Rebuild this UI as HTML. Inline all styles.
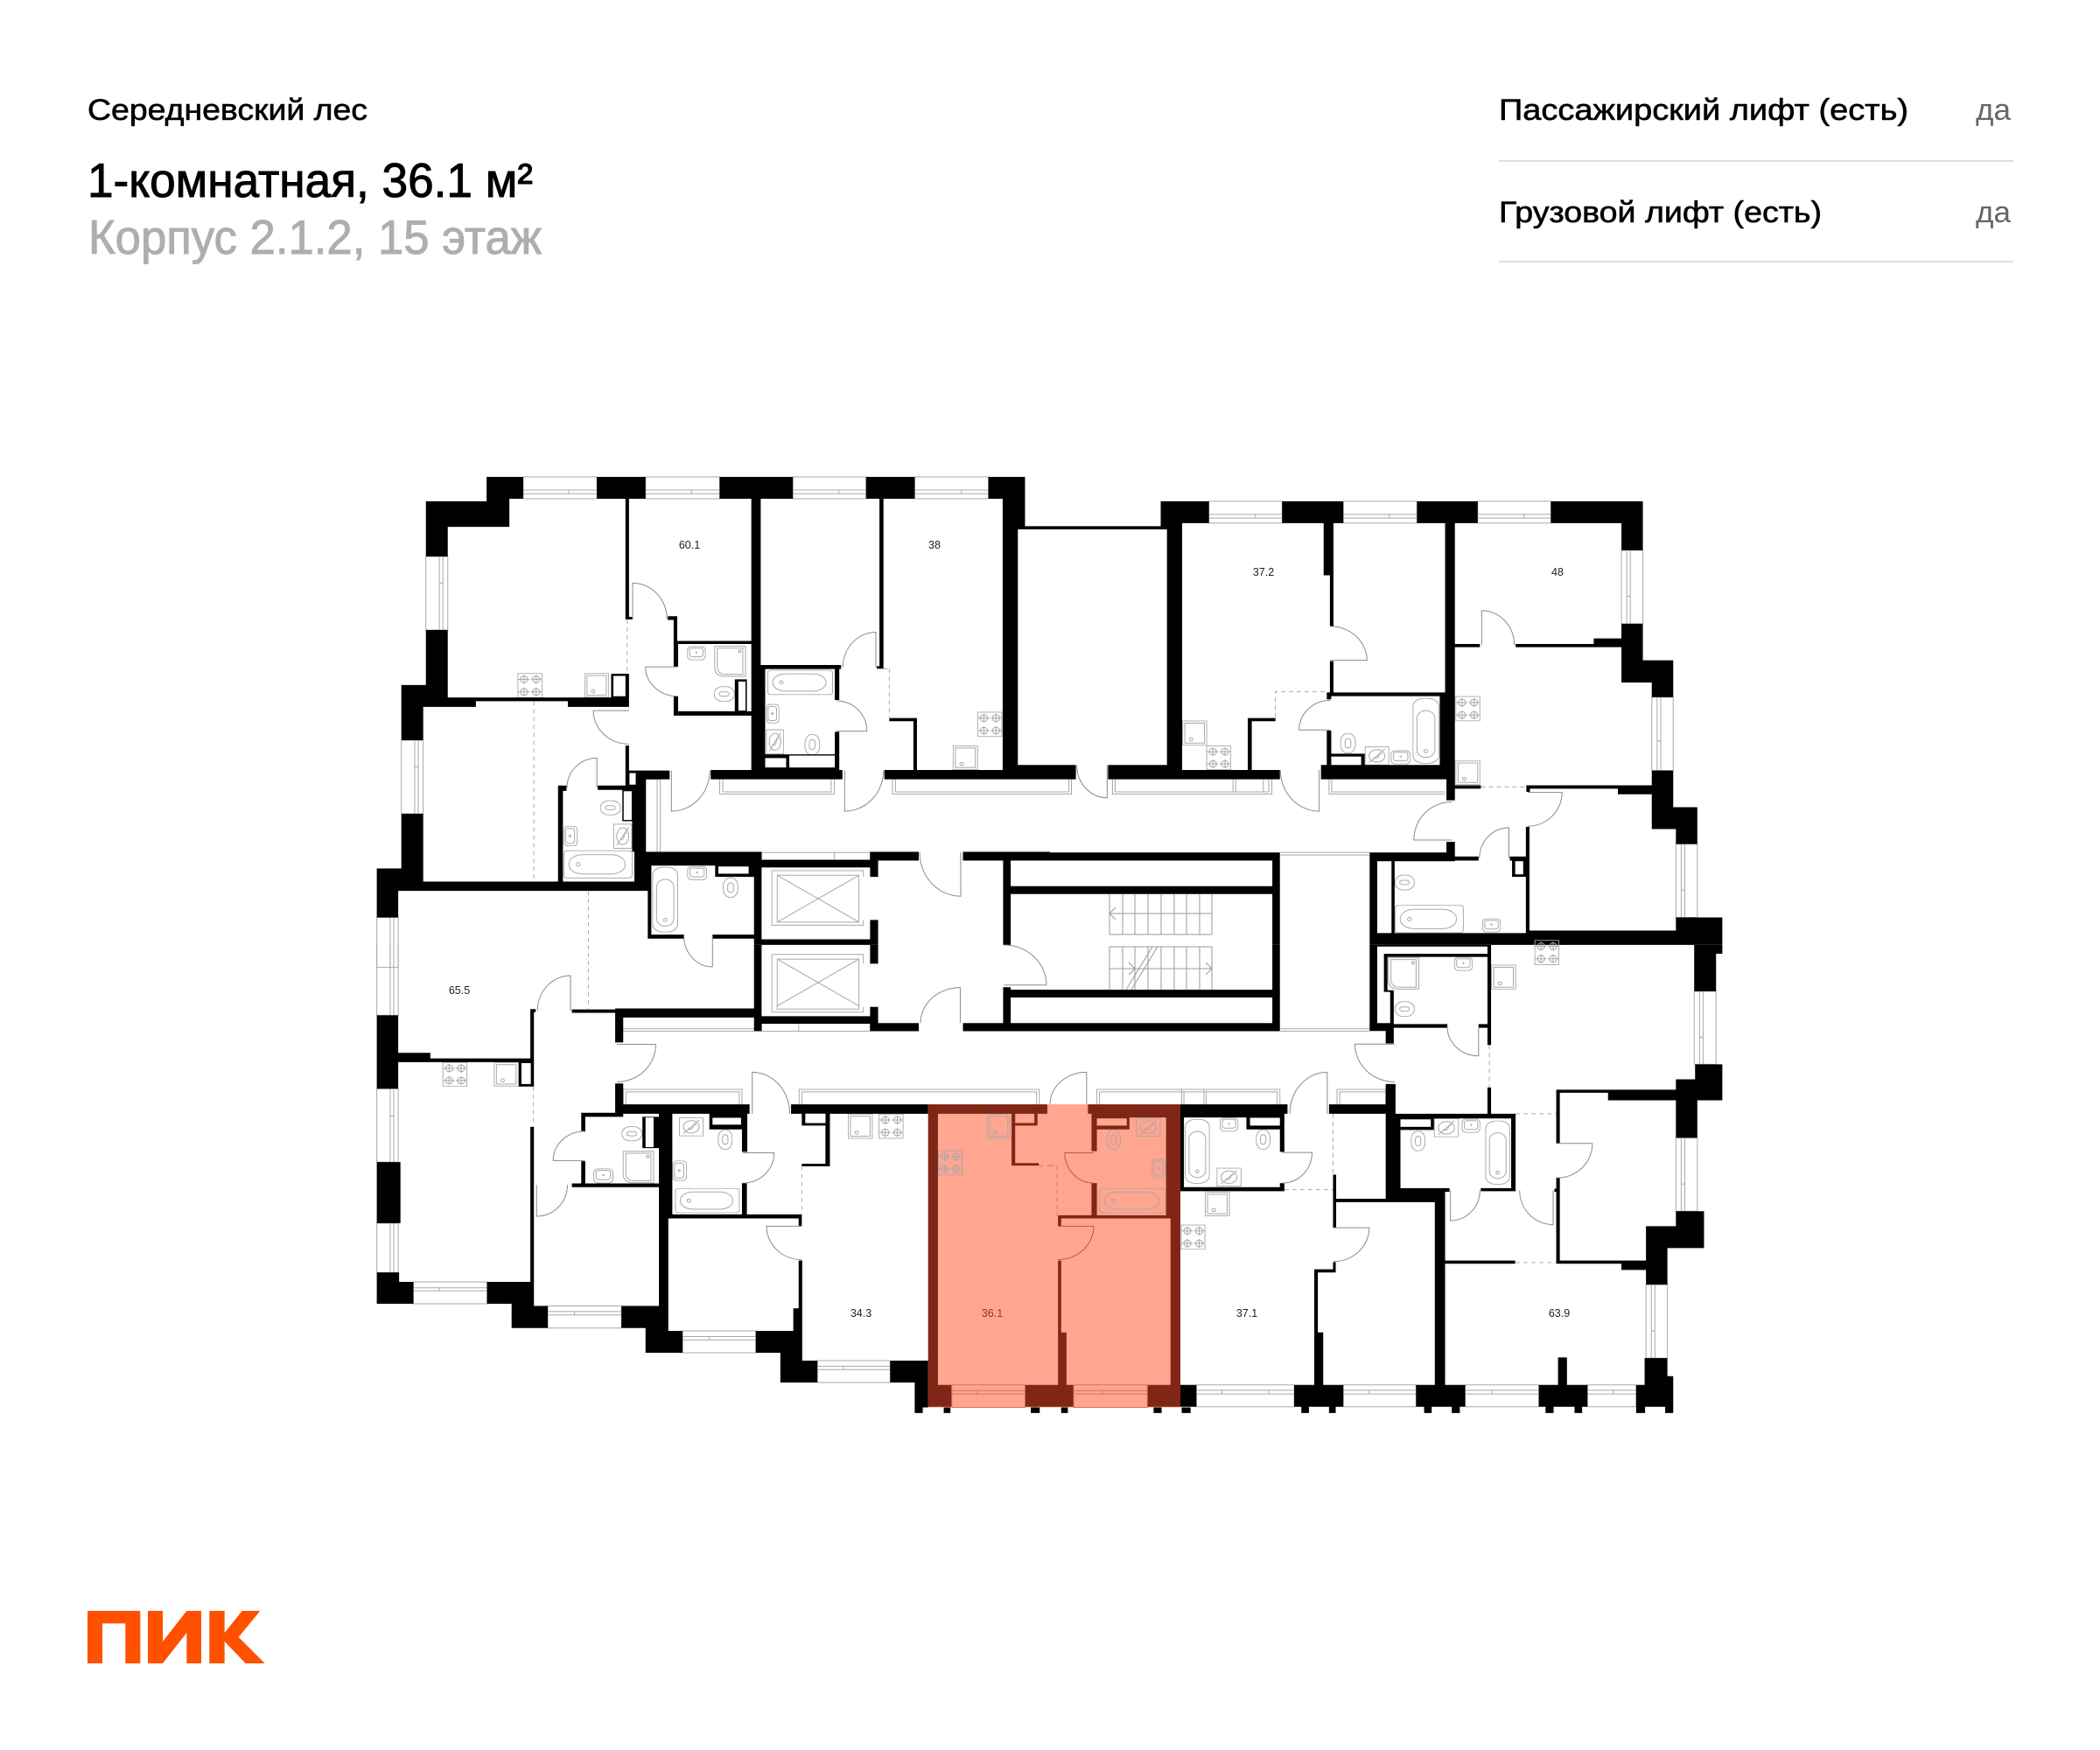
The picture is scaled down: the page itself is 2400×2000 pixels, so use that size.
<!DOCTYPE html>
<html lang="ru"><head><meta charset="utf-8"><title>План этажа</title>
<style>
html,body{margin:0;padding:0;background:#fff}
svg{display:block}
svg *{vector-effect:non-scaling-stroke}
text{font-family:"Liberation Sans",sans-serif}
.k{fill:#000;stroke:none}
.w{fill:#fff;stroke:none}
.d{fill:#7f2617;stroke:none}
.s{fill:#ffa590;stroke:none}
.l{fill:none;stroke:#a8a8a8;stroke-width:1}
.g{fill:none;stroke:#8a8a8a;stroke-width:1}
.da{fill:none;stroke:#aaa;stroke-width:1;stroke-dasharray:5 4}
use{color:#a8a8a8}
.n{font-size:12.5px;fill:#222;text-anchor:middle}
</style></head><body>
<svg xmlns="http://www.w3.org/2000/svg" width="2400" height="2000" viewBox="0 0 2400 2000">
<defs>
<symbol id="st" viewBox="0 0 56 80" preserveAspectRatio="none"><g fill="none" stroke="currentColor"><rect x="1" y="1" width="54" height="78"/><ellipse cx="15" cy="20" rx="8" ry="11"/><ellipse cx="42" cy="20" rx="8" ry="11"/><ellipse cx="15" cy="60" rx="8" ry="11"/><ellipse cx="42" cy="60" rx="8" ry="11"/><path d="M15 6V34M1 20H27M42 6V34M30 20H55M15 46V74M1 60H27M42 46V74M30 60H55"/></g></symbol>
<symbol id="fr" viewBox="0 0 56 80" preserveAspectRatio="none"><g fill="none" stroke="currentColor"><rect x="1" y="1" width="54" height="78"/><rect x="6" y="8" width="44" height="64"/><ellipse cx="20" cy="60" rx="4" ry="5"/></g></symbol>
<symbol id="bh" viewBox="0 0 150 90" preserveAspectRatio="none"><g fill="none" stroke="currentColor"><rect x="1" y="1" width="148" height="88" rx="8" ry="8"/><rect x="12" y="14" width="122" height="62" rx="30" ry="30"/><ellipse cx="32" cy="45" rx="4" ry="6"/></g></symbol>
<symbol id="bv" viewBox="0 0 60 210" preserveAspectRatio="none"><g fill="none" stroke="currentColor"><rect x="1" y="1" width="58" height="208" rx="25" ry="25"/><rect x="10" y="40" width="40" height="150" rx="20" ry="24"/><ellipse cx="30" cy="170" rx="4" ry="5"/></g></symbol>
<symbol id="tv" viewBox="0 0 35 68" preserveAspectRatio="none"><g fill="none" stroke="currentColor"><rect x="1" y="1" width="33" height="66" rx="16" ry="28"/><rect x="11" y="18" width="13" height="32" rx="6" ry="10"/></g></symbol>
<symbol id="th" viewBox="0 0 47 50" preserveAspectRatio="none"><g fill="none" stroke="currentColor"><rect x="1" y="1" width="45" height="48" rx="20" ry="22"/><rect x="12" y="18" width="22" height="14" rx="7" ry="6"/></g></symbol>
<symbol id="sh" viewBox="0 0 42 45" preserveAspectRatio="none"><g fill="none" stroke="currentColor"><rect x="1" y="1" width="40" height="43" rx="10" ry="12"/><rect x="6" y="6" width="30" height="28" rx="6" ry="7"/><circle cx="21" cy="20" r="1.5"/></g></symbol>
<symbol id="sv" viewBox="0 0 32 65" preserveAspectRatio="none"><g fill="none" stroke="currentColor"><rect x="1" y="1" width="30" height="63" rx="9" ry="12"/><rect x="5" y="8" width="20" height="48" rx="6" ry="8"/><ellipse cx="15" cy="32" rx="2" ry="3"/></g></symbol>
<symbol id="ca" viewBox="0 0 56 60" preserveAspectRatio="none"><g fill="none" stroke="currentColor"><rect x="1" y="1" width="54" height="58"/><ellipse cx="28" cy="30" rx="18" ry="20"/><path d="M10 52L46 8M20 36Q28 42 32 30Q34 18 40 24"/></g></symbol>
<symbol id="sw" viewBox="0 0 73 100" preserveAspectRatio="none"><g fill="none" stroke="currentColor"><path d="M2 2H71V98H25Q2 98 2 70Z"/><path d="M8 8H65V92H27Q8 92 8 68Z"/><ellipse cx="58" cy="18" rx="3" ry="4"/></g></symbol>
</defs>
<rect width="2400" height="2000" fill="#fff"/>

<!-- header -->
<text x="100" y="137" font-size="34" fill="#000" stroke="#000" stroke-width=".6" textLength="320" lengthAdjust="spacingAndGlyphs">Середневский лес</text>
<text x="100" y="225" font-size="55" fill="#000" stroke="#000" stroke-width="1" textLength="509" lengthAdjust="spacingAndGlyphs">1-комнатная, 36.1 м²</text>
<text x="101" y="290" font-size="55" fill="#aeaeae" stroke="#aeaeae" stroke-width="1" textLength="518" lengthAdjust="spacingAndGlyphs">Корпус 2.1.2, 15 этаж</text>
<text x="1713" y="137" font-size="34" fill="#000" stroke="#000" stroke-width=".6" textLength="468" lengthAdjust="spacingAndGlyphs">Пассажирский лифт (есть)</text>
<text x="2258" y="137" font-size="34" fill="#666" textLength="40" lengthAdjust="spacingAndGlyphs">да</text>
<rect x="1713" y="183" width="588" height="2" fill="#ddd"/>
<text x="1713" y="254" font-size="34" fill="#000" stroke="#000" stroke-width=".6" textLength="369" lengthAdjust="spacingAndGlyphs">Грузовой лифт (есть)</text>
<text x="2258" y="254" font-size="34" fill="#666" textLength="40" lengthAdjust="spacingAndGlyphs">да</text>
<rect x="1713" y="298" width="588" height="2" fill="#ddd"/>

<!-- logo -->
<g transform="translate(80 1821) scale(.3333)" fill="#ff5000">
<path d="M60 60H241V240H190V103H111V240H60Z"/>
<path d="M267 60H318V165L400 60H450V240H400V135L318 240H267Z"/>
<path d="M478 60H530V135L590 60H652L578 150L668 240H602L530 165V240H478Z"/>
</g>

<!-- highlight backgrounds -->
<g transform="translate(400 1080) scale(.5102 .3571)"><rect class="s" x="1295" y="510" width="275" height="970"/></g>
<g transform="translate(1200 1080) scale(.5102 .3571)"><rect class="s" x="0" y="510" width="292" height="970"/></g>

<!-- Q1 -->
<g transform="translate(400 520) scale(.5102 .3571)">
<path class="l" d="M388 70H553V140H388ZM388 112H553M388 124H553M490 112V124
M662 70H828V140H662ZM662 112H828M662 124H828M765 112V124
M992 70H1156V140H992ZM992 112H1156M992 124H1156M1095 112V124
M1265 70H1430V140H1265ZM1265 112H1430M1265 124H1430M1370 112V124
M170 325H219V560H170ZM200 325V560M208 325V560M200 410H208
M115 913H164V1148H115ZM145 913V1148M153 913V1148M145 998H153
M60 1480H108V1640H60ZM90 1480V1640M98 1480V1640
M828 1038V1085H1085V1038M835 1038V1078H1078V1038
M1215 1038V1085H1568M1222 1038V1078H1568
M663 1038H695V1270M688 1038V1270
M922 1272H1165V1296H922ZM1085 1272V1296"/>
<path class="da" d="M621 526V700M1208 684V840M1195 684H1208M412 788V1365M534 1395V1568"/>
<use href="#st" x="375" y="698" width="56" height="80"/><use href="#fr" x="525" y="698" width="55" height="78"/>
<use href="#bh" x="935" y="688" width="147" height="80"/><use href="#tv" x="1018" y="893" width="35" height="68"/>
<use href="#sv" x="932" y="797" width="30" height="62"/><use href="#ca" x="932" y="878" width="40" height="80"/>
<use href="#bh" x="478" y="1265" width="155" height="90"/><use href="#th" x="560" y="1105" width="47" height="48"/>
<use href="#sv" x="478" y="1187" width="32" height="65"/><use href="#ca" x="590" y="1180" width="42" height="80"/>
<use href="#sw" x="815" y="610" width="73" height="100"/><use href="#sh" x="755" y="612" width="42" height="45"/>
<use href="#th" x="815" y="740" width="47" height="50"/><use href="#bv" x="677" y="1318" width="58" height="210"/>
<use href="#sh" x="755" y="1316" width="45" height="45"/><use href="#tv" x="835" y="1352" width="35" height="65"/>
<use href="#st" x="1405" y="822" width="56" height="80"/><use href="#fr" x="1350" y="930" width="57" height="78"/>
<path class="k" d="M306 70H388V140H357V230H219V325H170V148H306Z
M553 70H662V140H553Z
M828 70H992V140H828Z
M899 140H920V1008H899Z
M1156 70H1265V140H1156Z
M617 140H625V518H633V526H617Z
M1430 70H1512V228H1568V238H1496V992H1568V1038H1197V1008H1462V140H1430Z
M1186 140H1195V684H1180V676H1186Z
M712 516H733V595H899V605H735V678H725V528H712Z
M725 772H735V820H899V834H725Z
M862 718H889V820H862Z
M899 672H1100V685H1096V784H1086V685H899Z
M1086 886H1096V1008H1086Z
M899 685H930V1008H899Z
M930 958H984V1000H930Z
M984 958H1086V962H984Z
M899 1000H1096V1008H899Z
M808 1008H1103V1038H808Z
M170 560H219V776H625V806H488V788H282V806H164V913H115V736H170Z
M585 700H625V776H585Z
M617 930H625V1058H617Z
M625 1010H716V1038H663V1270H632V1172H637V1072H625Z
M466 1058H485V1075H477V1365H466Z
M555 1058H637V1072H555Z
M610 1072H637V1172H610Z
M637 1270H922V1296H1165V1270H1274V1298H1183V1350H1165V1320H922V1568H905V1314H675V1545H667V1395H108V1480H60V1323H115V1148H164V1365H637Z
M667 1535H748V1548H667Z
M812 1535H905V1548H812Z
M818 1314H905V1350H818Z
M1165 1488H1183V1568H905V1550H1165Z
M1373 1270H1568V1298H1480V1380H1568V1405H1480V1568H1463V1298H1373Z
M1208 842H1270V1008H1262V852H1208Z"/>
<rect class="w" x="870" y="725" width="16" height="93"/>
<rect class="w" x="930" y="970" width="47" height="30"/>
<rect class="w" x="590" y="707" width="27" height="65"/>
<rect class="w" x="626" y="1018" width="14" height="37"/>
<rect class="w" x="613" y="1076" width="18" height="92"/>
<rect class="w" x="825" y="1317" width="68" height="23"/>
<path class="l" d="M945 1330H1150V1350M1150 1488V1505H945V1330M957 1345H1140V1495H957ZM957 1345L1140 1495M1140 1345L957 1495"/>
<path class="g" d="M633 525V410A77 115 0 0 1 710 525
M733 678H662A71 94 0 0 0 733 772
M625 818H545A80 107 0 0 0 625 925
M553 1065V970A67 95 0 0 0 486 1065
M720 1010V1140A86 130 0 0 0 806 1010
M1108 1010V1140A87 130 0 0 0 1195 1010
M1178 680V567A74 113 0 0 0 1104 680
M1090 884H1158A68 97 0 0 0 1090 787
M1368 1272V1412A92 140 0 0 1 1276 1272
M812 1540V1638A64 98 0 0 1 748 1540"/>
</g>

<!-- Q2 -->
<g transform="translate(1200 520) scale(.5102 .3571)">
<path class="l" d="M356 148H520V218H356ZM356 190H520M356 202H520M460 190V202
M657 148H822V218H657ZM657 190H822M657 202H822M760 190V202
M958 148H1122V218H958ZM958 190H1122M958 202H1122M1062 190V202
M1280 305H1328V540H1280ZM1292 305V540M1300 305V540M1292 452H1300
M1348 775H1396V1010H1348ZM1360 775V1010M1368 775V1010M1360 915H1368
M1402 1245H1450V1480H1402ZM1414 1245V1480M1422 1245V1480M1414 1392H1422
M0 1085H48V1038M0 1078H42V1038
M140 1038V1085H497V1038M146 1038V1078H490V1038M410 1038V1078M416 1038V1078M478 1038V1078
M625 1038V1085H885M631 1038V1078H885
M516 1272H716M516 1280H716"/>
<path class="da" d="M505 840V757H620M965 1062H1067"/>
<use href="#fr" x="296" y="850" width="56" height="80"/><use href="#st" x="350" y="930" width="56" height="78"/>
<use href="#bv" x="812" y="778" width="60" height="210"/><use href="#tv" x="650" y="890" width="35" height="65"/>
<use href="#ca" x="705" y="933" width="55" height="60"/><use href="#sh" x="763" y="945" width="45" height="45"/>
<use href="#st" x="908" y="772" width="56" height="80"/><use href="#fr" x="908" y="978" width="56" height="78"/>
<use href="#th" x="772" y="1343" width="45" height="50"/><use href="#bh" x="772" y="1440" width="155" height="90"/>
<use href="#sh" x="968" y="1483" width="42" height="45"/>
<path class="k" d="M0 228H248V148H356V218H296V1008H443V842H505V852H452V1008H515V1038H130V992H262V238H0Z
M0 992H58V1038H0Z
M520 148H657V218H635V548H627V385H613V218H520Z
M627 660H635V760H885V772H630V782H620V760H627Z
M620 882H630V956H705V992H697V965H630V1008H620Z
M607 992H890V1038H607Z
M822 148H958V218H907V1105H888V992H873V772H885V218H822Z
M1122 148H1328V305H1280V218H1122Z
M907 605H963V615H907Z
M1043 605H1218V587H1280V540H1328V657H1396V775H1348V728H1280V615H1043Z
M907 1057H965V1068H907Z
M1067 1057H1348V1010H1396V1127H1450V1245H1402V1197H1348V1086H1272V1068H1075V1078H1067Z
M888 1238H907V1300H772V1530H1066V1190H1074V1522H1402V1480H1506V1568H716V1272H888Z
M907 1285H960V1298H907Z
M1030 1285H1066V1350H1035V1298H1030Z
M0 1272H515V1568H498V1405H0V1380H498V1298H0Z"/>
<rect class="w" x="733" y="1300" width="32" height="230"/>
<rect class="w" x="1042" y="1300" width="18" height="42"/>
<path class="g" d="M627 657H710A83 109 0 0 0 627 548
M967 608V498A73 110 0 0 1 1040 608
M628 880H558A70 95 0 0 1 628 785
M603 1008V1140A87 132 0 0 1 516 1008
M128 993V1097A68 104 0 0 1 60 993
M1070 1080H1147A77 108 0 0 1 1070 1188
M900 1232H815A85 122 0 0 1 900 1110
M1028 1290V1193A66 97 0 0 0 962 1290"/>
</g>

<!-- Q3 -->
<g transform="translate(400 1080) scale(.5102 .3571)">
<path class="l" d="M60 0V225H108V0M90 0V225M98 0V225
M60 460H108V695H60ZM90 460V695M98 460V695M90 547H98
M60 890H108V1048H60ZM90 890V1048M98 890V1048
M142 1078H307V1148H142ZM142 1097H307M142 1107H307M200 1097V1107
M443 1155H608V1226H443ZM443 1173H608M443 1184H608M503 1173V1184
M745 1235H909V1305H745ZM745 1253H909M745 1264H909M805 1253V1264
M1047 1330H1210V1400H1047ZM1047 1348H1210M1047 1359H1210M1105 1348V1359
M612 268H905M612 276H905M922 252V276H1165V252M1005 252V276
M612 510V462H878V510M618 510V470H872V510
M1006 510V462H1544V510M1012 510V470H1538V510"/>
<path class="da" d="M534 0V205M411 453V582M1012 708V862"/>
<use href="#st" x="207" y="375" width="56" height="78"/><use href="#fr" x="322" y="375" width="56" height="78"/>
<use href="#th" x="608" y="580" width="47" height="48"/><use href="#sw" x="610" y="658" width="72" height="105"/>
<use href="#sh" x="545" y="715" width="45" height="48"/><use href="#ca" x="737" y="552" width="55" height="60"/>
<use href="#tv" x="824" y="590" width="33" height="65"/><use href="#sv" x="722" y="690" width="33" height="65"/>
<use href="#bh" x="728" y="778" width="145" height="80"/><use href="#fr" x="1115" y="540" width="56" height="80"/>
<use href="#st" x="1184" y="540" width="56" height="80"/>
<g style="color:#d9735c"><use href="#fr" x="1427" y="540" width="52" height="80"/><use href="#st" x="1317" y="657" width="55" height="80"/></g>
<path class="k" d="M60 225H108V345H180V363H404V205H416V215H412V375H108V460H60Z
M378 375H412V453H378Z
M404 582H412V1155H443V1226H362V1148H307V1078H404Z
M60 695H113V890H60Z
M60 1048H110V1078H142V1148H60Z
M594 203H905V0H922V228H1165V198H1183V250H1274V276H1165V252H922V276H905V232H612V312H594V217H497V206H594Z
M1165 0H1183V60H1165Z
M1463 135H1480V143H1568V168H1480V250H1568V276H1373V250H1463Z
M594 443H612V550H594Z
M612 510H895V540H612Z
M518 537H612V550H527V598H518Z
M518 692H527V763H692V540H722V862H878V762H889V862H1012V900H1005V875H713V1155H692V775H497V763H518Z
M655 550H692V650H655Z
M805 540H890V662H878V590H805Z
M608 1155H713V1235H745V1305H662V1226H608Z
M1005 1010H1013V1330H1047V1400H964V1305H909V1235H993V1163H1005Z
M988 510H1295V540H988Z
M1065 540H1075V708H1012V700H1065V578H1012V540H1020V570H1065Z
M1210 1330H1295V1400H1210Z
M1265 1400H1295V1480H1265Z
M1265 1480H1283V1498H1265Z
M1330 1480H1345V1498H1330Z
M1525 1480H1545V1498H1525Z"/>
<rect class="w" x="384" y="378" width="21" height="67"/>
<rect class="w" x="662" y="552" width="18" height="95"/>
<rect class="w" x="812" y="553" width="64" height="22"/>
<rect class="w" x="1020" y="540" width="45" height="30"/>
<path class="d" d="M1295 510H1562V540H1317V1408H1348V1478H1295Z
M1512 1408H1568V1478H1512Z
M1482 540H1490V570H1533V540H1540V578H1490V698H1543V706H1482Z"/>
<path fill="none" stroke="#d9735c" d="M1348 1408H1512V1480H1348ZM1348 1426H1512M1348 1437H1512M1405 1426V1437"/>
<path fill="none" stroke="#d9735c" stroke-dasharray="5 4" d="M1543 706H1568"/>
<path class="l" d="M945 30H1150V60M1150 198V215H945V30M957 45H1140V205H957ZM957 45L1140 195M1140 45L957 195"/>
<path class="g" d="M494 210V98A74 112 0 0 0 420 210
M598 318H685A87 120 0 0 1 598 438
M901 540V407A84 133 0 0 1 985 540
M526 690H455A71 94 0 0 1 526 596
M880 665H950A70 97 0 0 1 880 762
M418 768V868A69 100 0 0 0 487 768
M1012 900H933A79 107 0 0 0 1012 1007
M1367 250V136A89 114 0 0 0 1278 250
M1465 128H1560A95 128 0 0 0 1465 0"/>
</g>

<!-- Q4 -->
<g transform="translate(1200 1080) scale(.5102 .3571)">
<path class="l" d="M1443 148H1492V382H1443ZM1455 148V382M1463 148V382M1455 295H1463
M1402 617H1450V852H1402ZM1414 617V852M1422 617V852M1414 765H1422
M1335 1087H1383V1322H1335ZM1347 1087V1322M1355 1087V1322M1347 1235H1355
M328 1408H547V1478H328ZM328 1425H547M328 1437H547M385 1425V1437M490 1425V1437
M657 1408H820V1478H657ZM657 1425H820M657 1437H820M715 1425V1437
M930 1408H1095V1478H930ZM930 1425H1095M930 1437H1095M990 1425V1437
M1204 1408H1313V1478H1204ZM1204 1425H1313M1204 1437H1313M1262 1425V1437
M516 268H716M516 276H716
M105 510V462H515V510M111 510V470H509V510M295 462V510M300 470V510M345 462V510M350 470V510
M643 510V462H752V510M649 510V470H752"/>
<path class="da" d="M634 540V735M525 783H634M984 320V456M1043 540H1134M1043 1016H1134"/>
<path fill="none" stroke="#d9735c" stroke-dasharray="5 4" d="M16 706V865M0 706H16"/>
<g style="color:#d9735c"><use href="#ca" x="192" y="553" width="56" height="60"/><use href="#tv" x="126" y="590" width="33" height="65"/>
<use href="#sv" x="228" y="685" width="32" height="62"/><use href="#bh" x="110" y="778" width="150" height="80"/></g>
<use href="#bv" x="302" y="557" width="56" height="207"/><use href="#sh" x="380" y="552" width="42" height="45"/>
<use href="#tv" x="461" y="590" width="33" height="65"/><use href="#ca" x="373" y="713" width="56" height="60"/>
<use href="#fr" x="347" y="790" width="56" height="78"/><use href="#st" x="293" y="895" width="55" height="80"/>
<use href="#ca" x="860" y="555" width="56" height="60"/><use href="#sh" x="922" y="556" width="42" height="45"/>
<use href="#bv" x="975" y="562" width="56" height="205"/><use href="#tv" x="808" y="595" width="33" height="65"/>
<use href="#sw" x="756" y="38" width="72" height="105"/><use href="#sh" x="905" y="38" width="42" height="45"/>
<use href="#th" x="772" y="180" width="45" height="50"/><use href="#fr" x="988" y="63" width="56" height="80"/>
<path class="k" d="M292 510H532V540H525V662H515V590H440V552H300V775H515V762H525V788H292Z
M625 510H752V445H774V540H1043V788H965V778H1033V555H785V778H895V790H885V1408H930V1478H820V1408H862V823H640V812H752V540H625Z
M785 555H860V592H785Z
M634 735H641V905H634Z
M634 1015H640V1048H600V1240H612V1408H657V1478H547V1408H592V1038H634Z
M980 456H988V540H980Z
M980 0H988V320H980Z
M716 0H985V5H716Z
M716 0H733V250H770V315H752V275H716Z
M748 28H988V38H756V145H770V253H890V265H762V150H748Z
M960 253H988V265H960Z
M1134 463H1402V497H1250V473H1142V635H1134Z
M1134 745H1142V1010H1335V900H1402V852H1465V970H1383V1087H1335V1040H1280V1020H1134Z
M1130 780H1134V790H1130Z
M1402 430H1445V382H1506V497H1450V617H1402Z
M1443 0H1506V28H1492V148H1443Z
M885 1010H1042V1020H885Z
M1138 1320H1158V1408H1204V1478H1095V1408H1138Z
M1332 1322H1383V1380H1396V1478H1313V1408H1332Z
M292 1408H328V1478H292Z
M232 1480H250V1498H232Z
M295 1480H315V1498H295Z
M25 1480H40V1498H25Z
M563 1478H580V1498H563Z
M625 1478H640V1498H625Z
M838 1478H855V1498H838Z
M900 1478H918V1498H900Z
M1110 1478H1128V1498H1110Z
M1175 1478H1192V1498H1175Z
M1313 1478H1333V1498H1313Z
M1378 1478H1396V1498H1378Z
M0 143H498V0H515V276H0V250H498V168H0Z"/>
<rect class="w" x="448" y="553" width="67" height="25"/>
<rect class="w" x="785" y="558" width="68" height="24"/>
<use href="#st" x="1085" y="-16" width="56" height="80"/>
<path class="d" d="M85 510H292V1478H218V1408H270V875H25V900H18V865H260V552H178V590H105V660H93V540H85Z
M93 762H105V865H93Z
M18 1010H25V1240H37V1408H53V1478H0V1408H18Z"/>
<rect class="s" x="105" y="555" width="67" height="23"/>
<path fill="none" stroke="#d9735c" d="M53 1408H218V1480H53ZM53 1426H218M53 1437H218M118 1426V1437"/>
<path class="g" d="M82 510V407A82 103 0 0 0 0 510
M520 664H587A67 98 0 0 1 520 762
M621 540V407A84 133 0 0 0 537 540
M635 905H715A80 108 0 0 1 635 1013
M772 317H683A89 121 0 0 0 772 438
M960 262V355A70 93 0 0 1 890 262
M897 785V882A66 97 0 0 0 963 785
M1127 785V895A75 110 0 0 1 1052 785
M1137 635H1215A78 110 0 0 1 1137 745"/>
<path fill="none" stroke="#b85a45" d="M98 665H33A65 97 0 0 0 98 762M18 900H98A80 107 0 0 1 18 1007"/>
</g>

<!-- stairs -->
<path fill="none" stroke="#999" stroke-width="1" d="M1268 1022V1068M1283 1022V1068M1297 1022V1068M1312 1022V1068M1327 1022V1068M1342 1022V1068M1356 1022V1068M1371 1022V1068M1385 1022V1068
M1268 1068H1385M1268 1082H1385M1268 1044H1385M1275 1037L1268 1044L1275 1051
M1268 1082V1131M1283 1082V1131M1297 1082V1131M1312 1082V1131M1327 1082V1131M1342 1082V1131M1356 1082V1131M1371 1082V1131M1385 1082V1131
M1268 1107H1385M1378 1100L1385 1107L1378 1114M1290 1100L1297 1107L1290 1114
M1287 1131L1317 1082M1293 1131L1323 1082"/>

<!-- unit labels -->
<text class="n" x="788" y="627">60.1</text>
<text class="n" x="1068" y="627">38</text>
<text class="n" x="1444" y="658">37.2</text>
<text class="n" x="1780" y="658">48</text>
<text class="n" x="525" y="1136">65.5</text>
<text class="n" x="984" y="1505">34.3</text>
<text class="n" x="1134" y="1505" style="fill:#8c3a28">36.1</text>
<text class="n" x="1425" y="1505">37.1</text>
<text class="n" x="1782" y="1505">63.9</text>
</svg>
</body></html>
